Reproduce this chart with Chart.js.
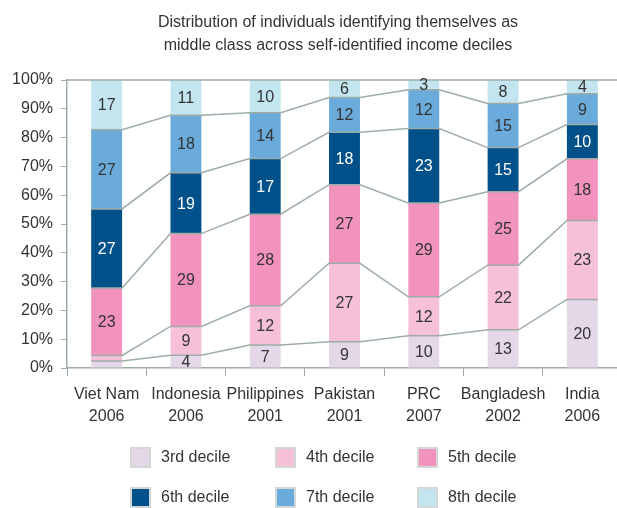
<!DOCTYPE html>
<html><head><meta charset="utf-8">
<script src="https://cdn.jsdelivr.net/npm/chart.js@4/dist/chart.umd.min.js"></script>
<style>
html,body{margin:0;padding:0;background:#fff;overflow:hidden;width:617px;height:508px;}
#wrap{position:absolute;left:0;top:0;width:640px;height:508px;}
#title{position:absolute;left:138px;width:400px;top:10px;text-align:center;font:16px "Liberation Sans",Arial,sans-serif;color:#333;line-height:23px;}
.lg{position:absolute;font:16px "Liberation Sans",Arial,sans-serif;color:#333;white-space:nowrap;}
.bx{position:absolute;width:17px;height:17px;border:2px solid #d3d8d6;}
</style></head>
<body>
<div id="wrap"><canvas id="c" width="640" height="508"></canvas></div>
<div id="title">Distribution of individuals identifying themselves as<br>middle class across self-identified income deciles</div>
<div id="legend"></div>
<script>
const categories = [["Viet Nam","2006"],["Indonesia","2006"],["Philippines","2001"],["Pakistan","2001"],["PRC","2007"],["Bangladesh","2002"],["India","2006"]];
const seriesNames = ["3rd decile","4th decile","5th decile","6th decile","7th decile","8th decile"];
const decile3 = [2.4, 4, 7, 9, 10, 13, 20];
const decile4 = [1.9, 9, 12, 27, 12, 22, 23];
const decile5 = [23, 29, 28, 27, 29, 25, 18];
const decile6 = [27, 19, 17, 18, 23, 15, 10];
const decile7 = [27, 18, 14, 12, 12, 15, 9];
const decile8 = [17, 11, 10, 6, 3, 8, 4];
const yTicks = [0,10,20,30,40,50,60,70,80,90,100];

const colors = ["#e4d8e8","#f6c0d9","#f293be","#00518a","#6aabdc","#c2e5ef"];
const labelColors = ["#333","#333","#333","#fff","#333","#333"];
const raw = [decile3,decile4,decile5,decile6,decile7,decile8];
const totals = categories.map((_,i)=>raw.reduce((s,a)=>s+a[i],0));
const FONT = '"Liberation Sans", Arial, sans-serif';

const datasets = raw.map((arr,k)=>({
  label: seriesNames[k],
  data: arr.map((v,i)=>v/totals[i]*100),
  rawValues: arr,
  backgroundColor: colors[k],
  borderWidth: 0,
  categoryPercentage: 1,
  barPercentage: 0.39
}));

const lineColor = "#9eaca7";
const overlay = {
  id:'overlay',
  afterDatasetsDraw(chart){
    const ctx = chart.ctx;
    const ys = chart.scales.y, ca = chart.chartArea;
    ctx.save();
    ctx.strokeStyle = lineColor; ctx.lineWidth = 1.5;
    const yt = ys.getPixelForValue(100);
    ctx.beginPath(); ctx.moveTo(ca.left, yt); ctx.lineTo(ca.right, yt); ctx.stroke();
    for (let k=0;k<5;k++){
      const meta = chart.getDatasetMeta(k);
      const bars = meta.data.map(b=>b.getProps(['x','y','width'],true));
      ctx.beginPath();
      bars.forEach((b,i)=>{
        const l=b.x-b.width/2, r=b.x+b.width/2;
        if(i===0) ctx.moveTo(l,b.y); else ctx.lineTo(l,b.y);
        ctx.lineTo(r,b.y);
      });
      ctx.stroke();
    }
    ctx.font = '16px '+FONT;
    ctx.textAlign='center'; ctx.textBaseline='middle';
    chart.data.datasets.forEach((ds,k)=>{
      const meta = chart.getDatasetMeta(k);
      meta.data.forEach((b,i)=>{
        const v = ds.rawValues[i];
        if (v < 2.5) return;
        const p = b.getProps(['x','y','base'],true);
        ctx.fillStyle = labelColors[k];
        ctx.fillText(String(Math.round(v)), p.x, (p.y+p.base)/2+1);
      });
    });
    ctx.restore();
  }
};

new Chart(document.getElementById('c'),{
  type:'bar',
  data:{labels:categories, datasets},
  options:{
    responsive:false, animation:false,
    layout:{padding:{top:80,right:18,left:0,bottom:0}},
    plugins:{legend:{display:false},tooltip:{enabled:false},title:{display:false}},
    scales:{
      x:{stacked:true, offset:true,
        grid:{drawOnChartArea:false, drawTicks:true, tickLength:8, color:lineColor, offset:true},
        border:{display:true,color:lineColor,width:1.5},
        ticks:{color:'#333', font:{family:FONT,size:16,lineHeight:1.35}, padding:8, maxRotation:0, autoSkip:false},
        afterFit(s){ s.height = 140; }
      },
      y:{stacked:true, min:0, max:100,
        afterBuildTicks(s){ s.ticks = yTicks.map(v=>({value:v})); },
        grid:{drawOnChartArea:false, drawTicks:true, tickLength:6, color:lineColor},
        border:{display:true,color:lineColor,width:1.5},
        ticks:{color:'#333', font:{family:FONT,size:16}, padding:8, callback:v=>v+'%'},
        afterFit(s){ s.width = 67; }
      }
    }
  },
  plugins:[overlay]
});

const legendPos = [[130,447],[275,447],[417,447],[130,487],[275,487],[417,487]];
const lg = document.getElementById('legend');
seriesNames.forEach((n,k)=>{
  const [x,y] = legendPos[k];
  const b = document.createElement('div'); b.className='bx';
  b.style.left=x+'px'; b.style.top=y+'px'; b.style.background=colors[k];
  lg.appendChild(b);
  const t = document.createElement('div'); t.className='lg';
  t.style.left=(x+31)+'px'; t.style.top=(y+1)+'px'; t.textContent=n;
  lg.appendChild(t);
});
</script>
</body></html>
